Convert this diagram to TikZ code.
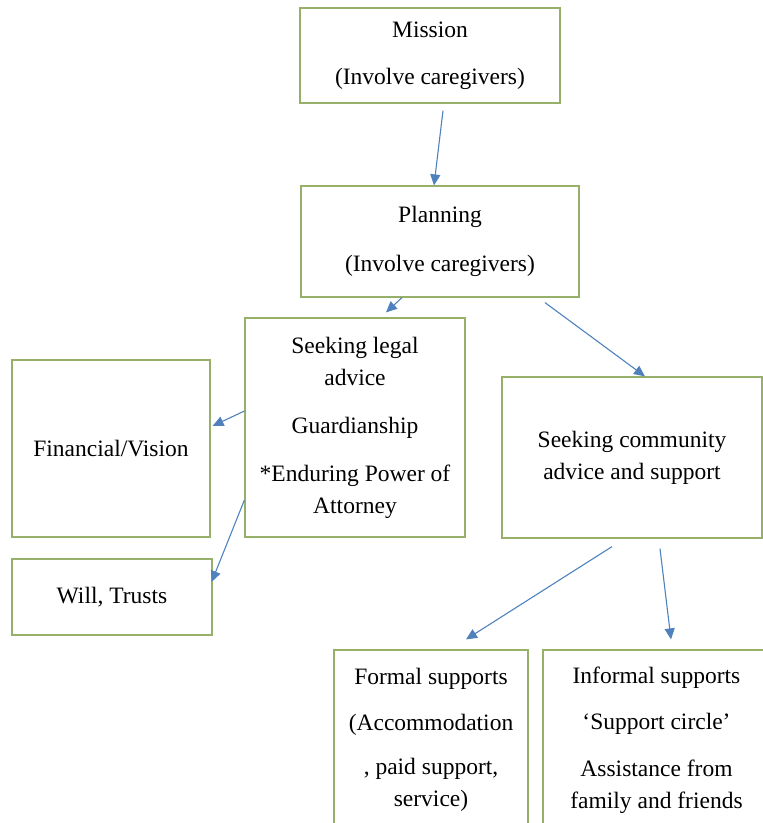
\documentclass[tikz,border=0pt]{standalone}
\usepackage{fontspec}
\setmainfont{Liberation Serif}
\usetikzlibrary{positioning, arrows.meta}

\begin{document}
\begin{tikzpicture}[x=1pt, y=-1pt,
  box/.style={draw=boxgreen, line width=1.2pt, fill=white, align=center,
    inner sep=0pt, font=\fontsize{23.5}{32}\selectfont},
  arr/.style={arrowblue, line width=1.1pt, -{Triangle[length=11pt, width=10pt]}}]

% Define colors
\definecolor{boxgreen}{RGB}{150, 175, 105}
\definecolor{arrowblue}{RGB}{79, 129, 189}

% Frame of the picture
\clip (0, 0) rectangle (763, 823);

% Draw the boxes
\node[box, minimum width=260pt, minimum height=95pt] (mission) at (430, 55.5)
  {Mission\\[15pt](Involve caregivers)};
\node[box, minimum width=278pt, minimum height=111pt] (planning) at (440, 241.5)
  {Planning\\[17pt](Involve caregivers)};
\node[box, minimum width=220pt, minimum height=219pt] (legal) at (355, 427.5)
  {Seeking legal\\advice\\[16pt]Guardianship\\[16pt]*Enduring Power of\\Attorney};
\node[box, minimum width=198pt, minimum height=177pt] (financial) at (111, 448.5)
  {Financial/Vision};
\node[box, minimum width=200pt, minimum height=76pt] (will) at (112, 597)
  {Will, Trusts};
\node[box, minimum width=260pt, minimum height=161pt] (community) at (632, 457.5)
  {Seeking community\\advice and support};
\node[box, minimum width=194pt, minimum height=180pt] (formal) at (431, 740)
  {Formal supports\\[14pt](Accommodation\\[12pt], paid support,\\service)};
\node[box, minimum width=227pt, minimum height=180pt] (informal) at (656.5, 740)
  {Informal supports\\[14pt]‘Support circle’\\[15pt]Assistance from\\family and friends};

% Draw the arrows
\draw[arr] ([xshift=13pt, yshift=-7pt]mission.south) -- ([xshift=-6pt]planning.north);
\draw[arr] ([xshift=-38pt]planning.south) -- ([xshift=31pt, yshift=5pt]legal.north);
\draw[arr] ([xshift=105pt, yshift=-5pt]planning.south) -- ([xshift=13pt]community.north);
\draw[arr] ([yshift=16.5pt]legal.west) -- ([xshift=2pt, yshift=22.5pt]financial.east);
\draw[arr] ([yshift=-72.5pt]legal.west) -- ([xshift=-1pt, yshift=15pt]will.east);
\draw[arr] ([xshift=-20pt, yshift=-8pt]community.south) -- ([xshift=35pt, yshift=10pt]formal.north);
\draw[arr] ([xshift=28pt, yshift=-10pt]community.south) -- ([xshift=14.5pt, yshift=10pt]informal.north);

\end{tikzpicture}
\end{document}
